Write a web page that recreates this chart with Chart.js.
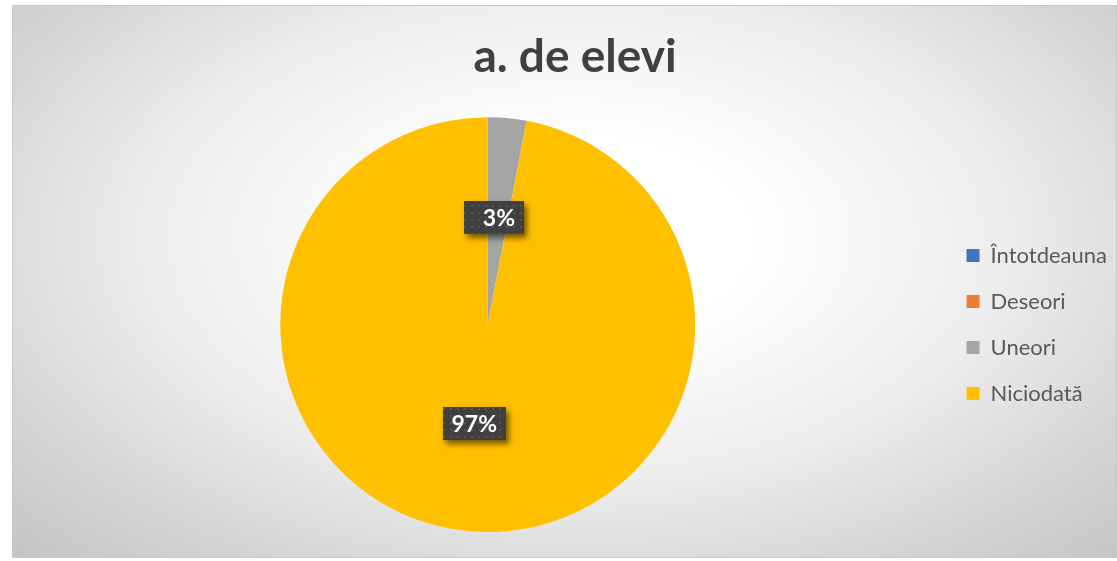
<!DOCTYPE html>
<html>
<head>
<meta charset="utf-8">
<script src="https://cdn.jsdelivr.net/npm/chart.js@4.4.1/dist/chart.umd.min.js"></script>
<style>
  html, body { margin: 0; padding: 0; background: #ffffff; }
  #frame {
    position: absolute; left: 12px; top: 5px; width: 1105px; height: 553px;
    border: 1px solid #c9c9c9; box-sizing: border-box;
    background: radial-gradient(ellipse farthest-corner at 51% 42%, #ffffff 0%, #ffffff 22%, #ececec 55%, #d6d6d6 78%, #c4c4c4 100%);
  }
  #chart { position: absolute; left: 0; top: 0; }
</style>
</head>
<body>
<div id="frame"></div>
<canvas id="chart" width="1117" height="561"></canvas>
<script>
// Răspunsuri: cât de des...
const categories = ['Întotdeauna', 'Deseori', 'Uneori', 'Niciodată'];
const percentages = [0, 0, 3, 97];
const sliceColors = ['#4472C4', '#ED7D31', '#A5A5A5', '#FFC000'];
const chartTitle = 'a. de elevi';

// Dotted fill used behind the data labels
function makeDotPattern(ctx) {
  const c = document.createElement('canvas');
  c.width = 7; c.height = 7;
  const p = c.getContext('2d');
  p.fillStyle = '#404040';
  p.fillRect(0, 0, 7, 7);
  p.fillStyle = '#565656';
  p.fillRect(2, 2, 2, 2);
  return ctx.createPattern(c, 'repeat');
}

const percentLabels = {
  id: 'percentLabels',
  afterDatasetsDraw(chart) {
    const ctx = chart.ctx;
    const meta = chart.getDatasetMeta(0);
    const values = chart.data.datasets[0].data;
    const pattern = makeDotPattern(ctx);
    ctx.save();
    ctx.font = 'bold 23px Lato';
    meta.data.forEach((arc, i) => {
      const v = values[i];
      if (!v) return;
      const pos = arc.tooltipPosition();
      const text = v + '%';
      const tw = ctx.measureText(text).width;
      const w = Math.round(Math.max(tw + 17, 60)), h = 33;
      const x = Math.round(pos.x - w / 2 - 4), y = Math.round(pos.y - h / 2 - 4);
      ctx.save();
      ctx.shadowColor = 'rgba(0,0,0,0.55)';
      ctx.shadowBlur = 6;
      ctx.shadowOffsetX = 3;
      ctx.shadowOffsetY = 4;
      ctx.fillStyle = '#404040';
      ctx.fillRect(x, y, w, h);
      ctx.restore();
      ctx.fillStyle = pattern;
      ctx.fillRect(x, y, w, h);
      ctx.fillStyle = '#ffffff';
      ctx.textAlign = 'right';
      ctx.textBaseline = 'middle';
      ctx.fillText(text, x + w - 9, y + h / 2 + 1);
    });
    ctx.restore();
  }
};

new Chart(document.getElementById('chart'), {
  type: 'pie',
  data: {
    labels: categories,
    datasets: [{
      data: percentages,
      backgroundColor: sliceColors,
      borderWidth: 0
    }]
  },
  options: {
    responsive: false,
    animation: false,
    events: [],
    layout: { padding: { left: 33, right: 0, top: 0, bottom: 29 } },
    plugins: {
      title: {
        display: true,
        text: chartTitle,
        color: '#404040',
        font: { family: 'Lato', size: 46, weight: 'bold' },
        padding: { top: 30, bottom: 32 }
      },
      legend: {
        position: 'right',
        align: 'center',
        fullSize: false,
        labels: {
          color: '#595959',
          font: { family: 'Lato', size: 22 },
          boxWidth: 13,
          boxHeight: 13,
          padding: 24
        }
      },
      tooltip: { enabled: false }
    }
  },
  plugins: [percentLabels]
});
</script>
</body>
</html>
